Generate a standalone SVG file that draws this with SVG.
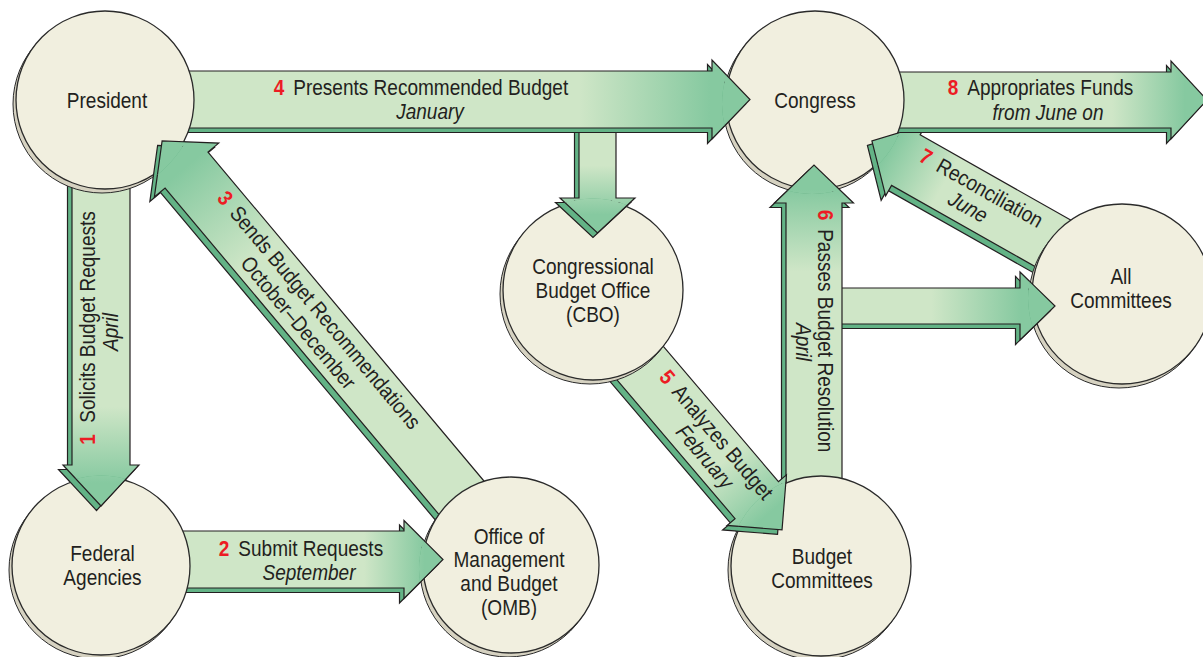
<svg xmlns="http://www.w3.org/2000/svg" xmlns:xlink="http://www.w3.org/1999/xlink" width="1203" height="657" viewBox="0 0 1203 657">
<style>
.face{stroke:#231f20;stroke-width:1.2}
.side{fill:#63b386;stroke:#231f20;stroke-width:1.2}
.circ{fill:#f1efdf;stroke:#2a2a2a;stroke-width:1.3}
.shad{fill:#d6d2c1;stroke:#2a2a2a;stroke-width:1}
.t{font-family:"Liberation Sans",Arial,sans-serif;font-size:21.5px;fill:#231f20}
.i{font-style:italic}
.n{fill:#ec1c24;font-weight:bold}
</style>
<defs>
<linearGradient id="gLong" x1="0" y1="0" x2="1" y2="0">
<stop offset="0" stop-color="#cfe6c7"/><stop offset="0.7" stop-color="#cfe6c7"/><stop offset="0.93" stop-color="#86c9a0"/><stop offset="1" stop-color="#86c9a0"/>
</linearGradient>
<linearGradient id="gShort" x1="0" y1="0" x2="1" y2="0">
<stop offset="0" stop-color="#cfe6c7"/><stop offset="0.45" stop-color="#cfe6c7"/><stop offset="0.85" stop-color="#86c9a0"/><stop offset="1" stop-color="#86c9a0"/>
</linearGradient>
<g id="a4"><g transform="translate(-4.5,4.5)"><polygon class="side" transform="translate(180,99.5)" points="0,-28.5 532,-28.5 532,-39.5 570,0 532,39.5 532,28.5 0,28.5"/></g><polygon class="face" fill="url(#gLong)" transform="translate(180,99.5)" points="0,-28.5 532,-28.5 532,-39.5 570,0 532,39.5 532,28.5 0,28.5"/></g>
<g id="a8"><g transform="translate(-4.5,4.5)"><polygon class="side" transform="translate(890,100)" points="0,-28 281,-28 281,-39 317,0 281,39 281,28 0,28"/></g><polygon class="face" fill="url(#gLong)" transform="translate(890,100)" points="0,-28 281,-28 281,-39 317,0 281,39 281,28 0,28"/></g>
<g id="aCBO"><g transform="translate(-4.5,4.5)"><polygon class="side" transform="translate(597.5,110) rotate(90)" points="0,-18.5 88,-18.5 88,-37.5 123,0 88,37.5 88,18.5 0,18.5"/></g><polygon class="face" fill="url(#gShort)" transform="translate(597.5,110) rotate(90)" points="0,-18.5 88,-18.5 88,-37.5 123,0 88,37.5 88,18.5 0,18.5"/></g>
<g id="aRes"><g transform="translate(-4.5,4.5)"><polygon class="side" transform="translate(830,306)" points="0,-18 190,-18 190,-34 225,0 190,34 190,18 0,18"/></g><polygon class="face" fill="url(#gShort)" transform="translate(830,306)" points="0,-18 190,-18 190,-34 225,0 190,34 190,18 0,18"/></g>
<g id="a6"><g transform="translate(-4.5,4.5)"><polygon class="side" transform="translate(814,520) rotate(-90)" points="0,-28 317,-28 317,-39.5 355,0 317,39.5 317,28 0,28"/></g><polygon class="face" fill="url(#gLong)" transform="translate(814,520) rotate(-90)" points="0,-28 317,-28 317,-39.5 355,0 317,39.5 317,28 0,28"/></g>
<g id="a1"><g transform="translate(-4.5,4.5)"><polygon class="side" transform="translate(101,175) rotate(90)" points="0,-29 290,-29 290,-38 331,0 290,38 290,29 0,29"/></g><polygon class="face" fill="url(#gLong)" transform="translate(101,175) rotate(90)" points="0,-29 290,-29 290,-38 331,0 290,38 290,29 0,29"/></g>
<g id="a2"><g transform="translate(-4.5,4.5)"><polygon class="side" transform="translate(180,559.5)" points="0,-28.5 224,-28.5 224,-39 263,0 224,39 224,28.5 0,28.5"/></g><polygon class="face" fill="url(#gLong)" transform="translate(180,559.5)" points="0,-28.5 224,-28.5 224,-39 263,0 224,39 224,28.5 0,28.5"/></g>
<g id="a3"><g transform="translate(-4.5,4.5)"><polygon class="side" transform="translate(483.5,524) rotate(230)" points="0,-28 462,-28 462,-42 500,0 462,42 462,28 0,28"/></g><polygon class="face" fill="url(#gLong)" transform="translate(483.5,524) rotate(230)" points="0,-28 462,-28 462,-42 500,0 462,42 462,28 0,28"/></g>
<g id="a5"><g transform="translate(-4.5,4.5)"><polygon class="side" transform="translate(587.6,301.4) rotate(49.6)" points="0,-28.5 261,-28.5 261,-39 300,0 261,39 261,28.5 0,28.5"/></g><polygon class="face" fill="url(#gLong)" transform="translate(587.6,301.4) rotate(49.6)" points="0,-28.5 261,-28.5 261,-39 300,0 261,39 261,28.5 0,28.5"/></g>
<g id="a7"><g transform="translate(-4.5,4.5)"><polygon class="side" transform="translate(1115.6,278.8) rotate(209.5)" points="0,-29 241,-29 241,-41 280,0 241,41 241,29 0,29"/></g><polygon class="face" fill="url(#gLong)" transform="translate(1115.6,278.8) rotate(209.5)" points="0,-29 241,-29 241,-41 280,0 241,41 241,29 0,29"/></g>
<clipPath id="cpPres"><circle cx="105" cy="100" r="90.5"/><circle cx="102" cy="104" r="90"/></clipPath>
<clipPath id="cpCong"><circle cx="815" cy="100" r="90.5"/><circle cx="812" cy="104" r="90"/></clipPath>
<clipPath id="cpCBO"><circle cx="593" cy="290" r="91.5"/><circle cx="590" cy="294" r="91"/></clipPath>
<clipPath id="cpAll"><circle cx="1122" cy="294" r="91.5"/><circle cx="1119" cy="298" r="91"/></clipPath>
<clipPath id="cpFed"><circle cx="101" cy="566" r="90.5"/><circle cx="98" cy="570" r="90"/></clipPath>
<clipPath id="cpOMB"><circle cx="511" cy="565" r="89.5"/><circle cx="508" cy="569" r="89"/></clipPath>
<clipPath id="cpBud"><circle cx="821" cy="566" r="91.5"/><circle cx="818" cy="570" r="91"/></clipPath>
</defs>
<rect width="1203" height="657" fill="#ffffff"/>
<g id="connectors">
<use href="#a7" xlink:href="#a7"/>
<use href="#a8" xlink:href="#a8"/>
<use href="#aCBO" xlink:href="#aCBO"/>
<use href="#a4" xlink:href="#a4"/>
<use href="#aRes" xlink:href="#aRes"/>
<use href="#a6" xlink:href="#a6"/>
<use href="#a1" xlink:href="#a1"/>
<use href="#a2" xlink:href="#a2"/>
<use href="#a3" xlink:href="#a3"/>
<use href="#a5" xlink:href="#a5"/>
</g>
<g id="node-president">
<circle class="shad" cx="102" cy="104" r="89"/><circle class="circ" cx="105" cy="100" r="89"/>
<text class="t" transform="translate(107,107.5) scale(0.885,1)" text-anchor="middle">President</text>
</g>
<g id="node-congress">
<circle class="shad" cx="812" cy="104" r="89"/><circle class="circ" cx="815" cy="100" r="89"/>
<text class="t" transform="translate(815,108) scale(0.885,1)" text-anchor="middle">Congress</text>
</g>
<g id="node-cbo">
<circle class="shad" cx="590" cy="294" r="90"/><circle class="circ" cx="593" cy="290" r="90"/>
<text class="t" transform="translate(593,273.5) scale(0.885,1)" text-anchor="middle">Congressional</text>
<text class="t" transform="translate(593,297.5) scale(0.885,1)" text-anchor="middle">Budget Office</text>
<text class="t" transform="translate(593,321.5) scale(0.885,1)" text-anchor="middle">(CBO)</text>
</g>
<g id="node-all-committees">
<circle class="shad" cx="1119" cy="298" r="90"/><circle class="circ" cx="1122" cy="294" r="90"/>
<text class="t" transform="translate(1121,283.5) scale(0.885,1)" text-anchor="middle">All</text>
<text class="t" transform="translate(1121,307.5) scale(0.885,1)" text-anchor="middle">Committees</text>
</g>
<g id="node-federal-agencies">
<circle class="shad" cx="98" cy="570" r="89"/><circle class="circ" cx="101" cy="566" r="89"/>
<text class="t" transform="translate(102.5,560.5) scale(0.885,1)" text-anchor="middle">Federal</text>
<text class="t" transform="translate(102.5,584.5) scale(0.885,1)" text-anchor="middle">Agencies</text>
</g>
<g id="node-omb">
<circle class="shad" cx="508" cy="569" r="88"/><circle class="circ" cx="511" cy="565" r="88"/>
<text class="t" transform="translate(509,543.5) scale(0.885,1)" text-anchor="middle">Office of</text>
<text class="t" transform="translate(509,567) scale(0.885,1)" text-anchor="middle">Management</text>
<text class="t" transform="translate(509,591) scale(0.885,1)" text-anchor="middle">and Budget</text>
<text class="t" transform="translate(509,615) scale(0.885,1)" text-anchor="middle">(OMB)</text>
</g>
<g id="node-budget-committees">
<circle class="shad" cx="818" cy="570" r="90"/><circle class="circ" cx="821" cy="566" r="90"/>
<text class="t" transform="translate(822,563.5) scale(0.885,1)" text-anchor="middle">Budget</text>
<text class="t" transform="translate(822,587.5) scale(0.885,1)" text-anchor="middle">Committees</text>
</g>
<g id="connector-heads">
<use href="#a4" xlink:href="#a4" clip-path="url(#cpCong)"/>
<use href="#a6" xlink:href="#a6" clip-path="url(#cpCong)"/>
<use href="#a7" xlink:href="#a7" clip-path="url(#cpCong)"/>
<use href="#aCBO" xlink:href="#aCBO" clip-path="url(#cpCBO)"/>
<use href="#aRes" xlink:href="#aRes" clip-path="url(#cpAll)"/>
<use href="#a1" xlink:href="#a1" clip-path="url(#cpFed)"/>
<use href="#a2" xlink:href="#a2" clip-path="url(#cpOMB)"/>
<use href="#a3" xlink:href="#a3" clip-path="url(#cpPres)"/>
<use href="#a5" xlink:href="#a5" clip-path="url(#cpBud)"/>
</g>
<g id="connector-labels">
<text class="t" transform="translate(421,95) scale(0.885,1)" text-anchor="middle"><tspan class="n">4</tspan><tspan dx="10">Presents Recommended Budget</tspan></text>
<text class="t i" transform="translate(430,119) scale(0.885,1)" text-anchor="middle">January</text>
<text class="t" transform="translate(1040.5,95) scale(0.885,1)" text-anchor="middle"><tspan class="n">8</tspan><tspan dx="10">Appropriates Funds</tspan></text>
<text class="t i" transform="translate(1048,120) scale(0.885,1)" text-anchor="middle">from June on</text>
<text class="t" transform="translate(301,556) scale(0.885,1)" text-anchor="middle"><tspan class="n">2</tspan><tspan dx="10">Submit Requests</tspan></text>
<text class="t i" transform="translate(309,580) scale(0.885,1)" text-anchor="middle">September</text>
<g transform="translate(95,328) rotate(-90)">
<text class="t" transform="scale(0.885,1)" text-anchor="middle"><tspan class="n">1</tspan><tspan dx="13">Solicits Budget Requests</tspan></text>
<text class="t i" transform="scale(0.885,1)" x="-4.5" y="23" text-anchor="middle">April</text>
</g>
<g transform="translate(818,331) rotate(90)">
<text class="t" transform="scale(0.885,1)" text-anchor="middle"><tspan class="n">6</tspan><tspan dx="10">Passes Budget Resolution</tspan></text>
<text class="t i" transform="scale(0.885,1)" x="12.4" y="22" text-anchor="middle">April</text>
</g>
<g transform="translate(313.5,314.8) rotate(50)">
<text class="t" transform="scale(0.885,1)" text-anchor="middle"><tspan class="n">3</tspan><tspan dx="10">Sends Budget Recommendations</tspan></text>
<text class="t" transform="scale(0.885,1)" x="-4.2" y="24" text-anchor="middle">October–December</text>
</g>
<g transform="translate(710.9,439.5) rotate(49.6)">
<text class="t" transform="scale(0.885,1)" text-anchor="middle"><tspan class="n">5</tspan><tspan dx="10">Analyzes Budget</tspan></text>
<text class="t i" transform="scale(0.885,1)" x="10.4" y="23" text-anchor="middle">February</text>
</g>
<g transform="translate(977.8,194.5) rotate(29.5)">
<text class="t" transform="scale(0.885,1)" text-anchor="middle"><tspan class="n">7</tspan><tspan dx="10">Reconciliation</tspan></text>
<text class="t i" transform="scale(0.885,1)" x="-2.6" y="23" text-anchor="middle">June</text>
</g>
</g>
</svg>
